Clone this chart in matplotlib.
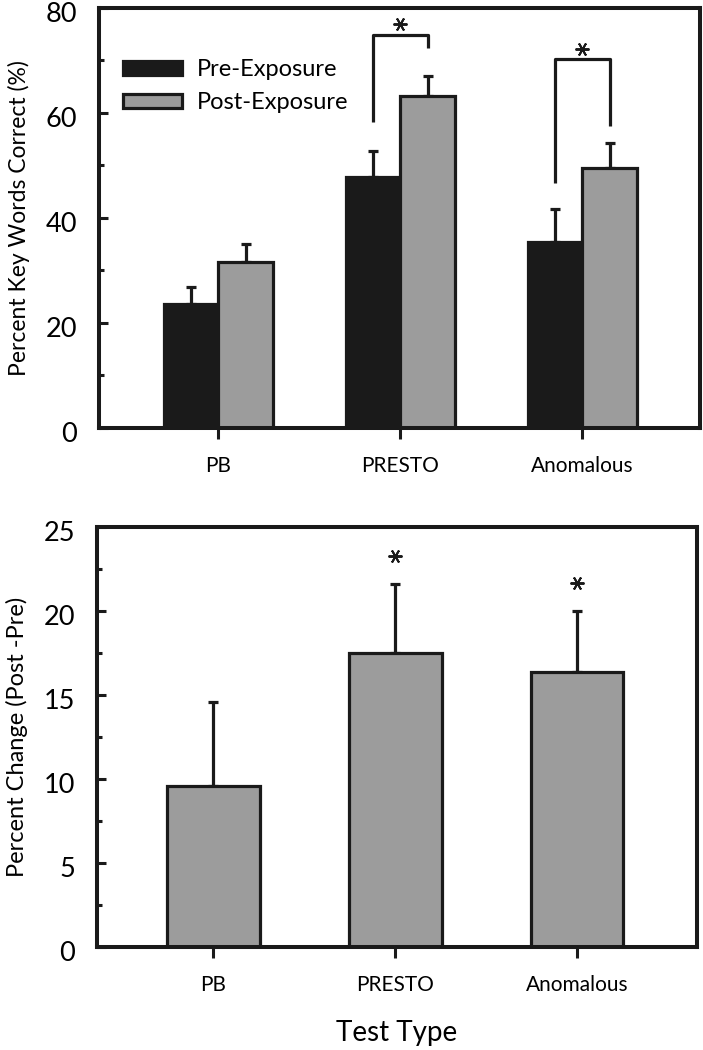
import numpy as np
import matplotlib
matplotlib.use("Agg")
from matplotlib import pyplot as plt
from matplotlib.ticker import MultipleLocator
from matplotlib.patches import Patch
from matplotlib.transforms import ScaledTranslation

plt.rcParams['font.family'] = ['Lato', 'DejaVu Sans']

# data
tests = ["PB", "PRESTO", "Anomalous"]
pre = [23.6, 47.9, 35.5]
pre_err = [3.2, 4.8, 6.3]
post = [31.7, 63.3, 49.6]
post_err = [3.3, 3.8, 4.6]

change = [9.6, 17.5, 16.4]
change_err = [5.0, 4.1, 3.6]

# significance brackets (top panel): group index, left foot, top, right foot
brk_group = [1, 2]
brk_left = [58.2, 46.6]
brk_top = [74.9, 70.2]
brk_right = [72.4, 57.6]
# stars bottom panel
star_groups = [1, 2]

black = "#1a1a1a"
gray = "#9c9c9c"
lw = 2.3
star = dict(marker=(6, 2, 90), markersize=10, markeredgewidth=1.4, color=black, linestyle='none')

fig = plt.figure(figsize=(7.03, 10.5), dpi=100)
ax1 = fig.add_axes([0.1408, 0.5924, 0.8549, 0.4000])
ax2 = fig.add_axes([0.1380, 0.0981, 0.8535, 0.3999])

x = np.arange(len(tests))
w = 0.3

# top panel
ax1.bar(x - w / 2, pre, width=w, color=black, edgecolor=black, linewidth=lw, zorder=2)
ax1.bar(x + w / 2, post, width=w, color=gray, edgecolor=black, linewidth=lw, zorder=2)
ax1.errorbar(x - w / 2, pre, yerr=[np.zeros(3), pre_err], fmt='none', ecolor=black,
             elinewidth=lw, capsize=3.6, capthick=lw, zorder=1)
ax1.errorbar(x + w / 2, post, yerr=[np.zeros(3), post_err], fmt='none', ecolor=black,
             elinewidth=lw, capsize=3.6, capthick=lw, zorder=1)

for g, yl, yt, yr in zip(brk_group, brk_left, brk_top, brk_right):
    ax1.plot([g - w / 2, g - w / 2, g + w / 2, g + w / 2], [yl, yt, yt, yr],
             color=black, lw=lw, solid_capstyle='butt')
    ax1.plot([g], [yt + 2.0], **star)

ax1.set_xlim(-0.656, 2.646)
ax1.set_ylim(0, 80)
ax1.set_xticks(x)
ax1.set_xticklabels(tests)
ax1.yaxis.set_major_locator(MultipleLocator(20))
ax1.yaxis.set_minor_locator(MultipleLocator(10))
ax1.set_ylabel("Percent Key Words Correct (%)", fontsize=16.5, labelpad=11)

handles = [Patch(facecolor=black, edgecolor=black, linewidth=lw),
           Patch(facecolor=gray, edgecolor=black, linewidth=lw)]
ax1.legend(handles, ["Pre-Exposure", "Post-Exposure"], loc='upper left',
           bbox_to_anchor=(0.025, 0.90), frameon=False, fontsize=17,
           handlelength=2.5, handleheight=0.5, handletextpad=0.6, labelspacing=0.5,
           borderaxespad=0)

# bottom panel
ax2.bar(x, change, width=0.51, color=gray, edgecolor=black, linewidth=lw, zorder=2)
ax2.errorbar(x, change, yerr=[np.zeros(3), change_err], fmt='none', ecolor=black,
             elinewidth=lw, capsize=3.6, capthick=lw, zorder=1)
for g in star_groups:
    ax2.plot([g], [change[g] + change_err[g] + 1.7], **star)

ax2.set_xlim(-0.64, 2.66)
ax2.set_ylim(0, 25)
ax2.set_xticks(x)
ax2.set_xticklabels(tests)
ax2.yaxis.set_major_locator(MultipleLocator(5))
ax2.yaxis.set_minor_locator(MultipleLocator(2.5))
ax2.set_ylabel("Percent Change (Post -Pre)", fontsize=17, labelpad=11)
ax2.set_xlabel("Test Type", fontsize=20, labelpad=18)

shift = ScaledTranslation(0, -3 / 72, fig.dpi_scale_trans)
for ax in (ax1, ax2):
    for s in ax.spines.values():
        s.set_linewidth(2.9)
        s.set_color(black)
    ax.tick_params(axis='y', which='major', direction='in', length=6.5, width=2.2,
                   labelsize=19.5, pad=16, color=black)
    ax.tick_params(axis='y', which='minor', direction='in', length=3.6, width=2.2, color=black)
    ax.tick_params(axis='x', which='major', direction='out', length=8, width=2.2,
                   labelsize=15, pad=12, color=black)
    for lab in ax.get_yticklabels():
        lab.set_transform(lab.get_transform() + shift)

fig.savefig("out.png", dpi=100)
